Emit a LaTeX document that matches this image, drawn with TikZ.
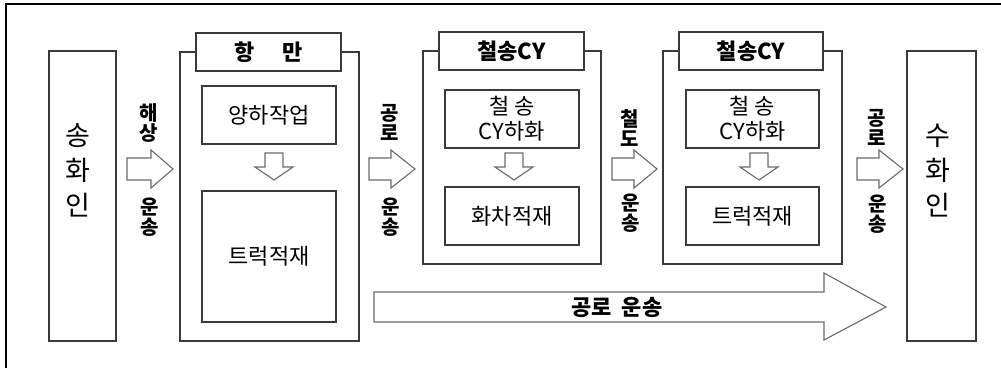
\documentclass[tikz,border=0pt]{standalone}
\usepackage{fontspec}
\setmainfont{Noto Sans CJK KR}
\begin{document}
\begin{tikzpicture}[x=1pt,y=-1pt,
  boxst/.style={draw=boxgray, line width=1.6pt, fill=white, inner sep=0pt},
  blockarrow/.style={draw=arrowgray, line width=1.1pt, fill=white, line join=miter},
  lbl/.style={font=\bfseries\fontsize{20}{20}\selectfont, align=center, inner sep=0pt},
  inner/.style={font=\fontsize{22}{25}\selectfont, align=center},
  tabtxt/.style={font=\bfseries\fontsize{22}{22}\selectfont},
  big/.style={font=\fontsize{27}{35}\selectfont, align=center, inner sep=0pt}]
\definecolor{boxgray}{HTML}{3A3A3A}
\definecolor{arrowgray}{HTML}{6A6A6A}
\useasboundingbox (0,0) rectangle (1001,368);
% frame
\draw[black, line width=1.5pt] (6,368) -- (6,4) -- (1001,4);

% shipper
\node[boxst, minimum width=67pt, minimum height=290pt] (ship) at (82.5,196) {};
\node[big] (shiptxt) at (78,170) {송\\화\\인};

% port
\node[boxst, minimum width=179pt, minimum height=289pt] (port) at (269.5,196.5) {};
\node[boxst, minimum width=145pt, minimum height=38pt, tabtxt] (porttab) at (268.5,52) {항\hspace{28pt}만};
\node[boxst, minimum width=134pt, minimum height=58pt, inner] (unload) at (269,115) {양하작업};
\node[boxst, minimum width=134pt, minimum height=131pt, inner] (truck1) at (269,256.5) {트럭적재};

% rail CY 1
\node[boxst, minimum width=178pt, minimum height=213pt] (cy1) at (512,157.5) {};
\node[boxst, minimum width=145pt, minimum height=38pt, tabtxt] (cy1tab) at (511.5,51) {철송CY};
\node[boxst, minimum width=134pt, minimum height=58pt, inner] (cy1a) at (512,119) {철 송\\CY하화};
\node[boxst, minimum width=134pt, minimum height=58pt, inner] (cy1b) at (512,216) {화차적재};

% rail CY 2
\node[boxst, minimum width=179pt, minimum height=213pt] (cy2) at (752.5,157.5) {};
\node[boxst, minimum width=144pt, minimum height=38pt, tabtxt] (cy2tab) at (751,51) {철송CY};
\node[boxst, minimum width=133pt, minimum height=58pt, inner] (cy2a) at (752.5,119) {철 송\\CY하화};
\node[boxst, minimum width=133pt, minimum height=58pt, inner] (cy2b) at (752.5,216) {트럭적재};

% consignee
\node[boxst, minimum width=69pt, minimum height=290pt] (cons) at (941.5,196) {};
\node[big] (constxt) at (938,171) {수\\화\\인};

% small down arrows
\foreach \n/\cx in {unload/274, cy1a/514, cy2a/759}{
  \draw[blockarrow] (\cx-9,153) -- (\cx+9,153) -- (\cx+9,167) -- (\cx+19,167) -- (\cx,180) -- (\cx-19,167) -- (\cx-9,167) -- cycle;
}

% horizontal block arrows
\foreach \x/\b/\t in {127/151/173, 369/391/415, 612/634/657, 857/879/903}{
  \draw[blockarrow] (\x,158) -- (\b,158) -- (\b,150) -- (\t,169) -- (\b,188) -- (\b,180) -- (\x,180) -- cycle;
}

% labels of horizontal arrows
\node[lbl] (l1a) at (149,123) {해\\상};
\node[lbl] (l1b) at (150,217) {운\\송};
\node[lbl] (l2a) at (390,122.5) {공\\로};
\node[lbl] (l2b) at (391,217) {운\\송};
\node[lbl] (l3a) at (630,128.5) {철\\도};
\node[lbl] (l3b) at (631,213.5) {운\\송};
\node[lbl] (l4a) at (877,127) {공\\로};
\node[lbl] (l4b) at (878,214) {운\\송};

% big road arrow
\draw[blockarrow] (374,292) -- (824,292) -- (824,273) -- (886,307) -- (824,340) -- (824,322) -- (374,322) -- cycle;
\node[font=\bfseries\fontsize{22}{22}\selectfont] (road) at (617,307) {공로\hspace{10pt}운송};
\end{tikzpicture}
\end{document}
